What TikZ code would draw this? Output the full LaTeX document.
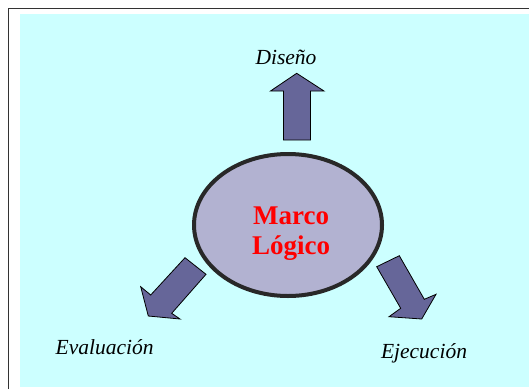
\documentclass[tikz,border=0pt]{standalone}
\usepackage{fontspec}
\setmainfont{Liberation Serif}
\definecolor{bgcyan}{RGB}{204,255,255}
\definecolor{ellfill}{RGB}{178,178,209}
\definecolor{arrfill}{RGB}{102,102,153}
\definecolor{ellline}{RGB}{40,40,40}
\begin{document}
\begin{tikzpicture}[x=1pt,y=-1pt,
  blockarrow/.style={fill=arrfill,draw=black,line width=0.8pt,line join=miter},
  label/.style={font=\fontsize{21.5}{24}\selectfont\itshape,anchor=base,inner sep=0pt},
  coretext/.style={font=\fontsize{27}{29.5}\selectfont\bfseries,text=red,anchor=base,inner sep=0pt}]
\useasboundingbox (0,0) rectangle (529,389);
% background and frame
\fill[bgcyan] (20,14) rectangle (529,387);
\draw[black!80,line width=1pt] (8.5,389) -- (8.5,8.5) -- (529,8.5);
% central ellipse
\draw[fill=ellfill,draw=ellline,line width=4pt] (288,225) ellipse [x radius=94, y radius=71];
\node[coretext] (marco) at (291,224.7) {Marco};
\node[coretext] (logico) at (291,254) {Lógico};
% up arrow
\draw[blockarrow] (283.5,140) -- (283.5,91) -- (270.5,91) -- (296.7,73.3) -- (324,91) -- (310.5,91) -- (310.5,140) -- cycle;
% down-left arrow
\draw[blockarrow] (185,257.7) -- (206,274.3) -- (171.7,313.3) -- (180,319) -- (148.3,316) -- (140.7,286.7) -- (150.7,295) -- cycle;
% down-right arrow
\draw[blockarrow] (376.7,266.7) -- (399.3,255.7) -- (424.3,299.3) -- (436,294.3) -- (421.7,319) -- (389,316.7) -- (400.7,308.3) -- cycle;
% labels
\node[label] (diseno) at (286,64) {Diseño};
\node[label] (evaluacion) at (104.7,354) {Evaluación};
\node[label] (ejecucion) at (424,358) {Ejecución};
\end{tikzpicture}
\end{document}
